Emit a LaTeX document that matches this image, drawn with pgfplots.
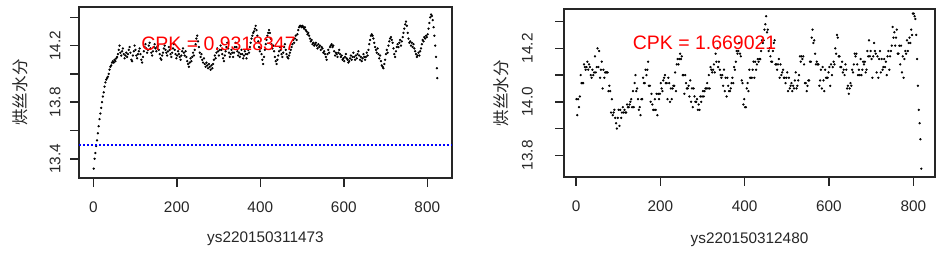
\documentclass[border=0pt]{standalone}
\usepackage{pgfplots}
\pgfplotsset{compat=1.18}
\usepackage{fontspec}
\setmainfont{Liberation Sans}
\newfontfamily\cjk{Noto Sans CJK SC}
\begin{document}
\begin{tikzpicture}
\useasboundingbox (0,0) rectangle (702.75pt,-189.75pt);
\pgfplotsset{
  rstyle/.style={
    scale only axis,
    clip mode=individual,
    axis line style={black!85, line width=1.2pt},
    every tick/.style={black!85, line width=1.1pt},
    tick align=outside,
    major tick length=6.75pt,
    xtick pos=bottom, ytick pos=left,
    tick label style={font=\fontsize{11.5}{13}\selectfont, black!85},
    xticklabel style={anchor=north, inner sep=0pt, yshift=-11pt},
    yticklabel style={rotate=90, anchor=south, inner sep=0pt, yshift=7pt},
    xtick={0,200,400,600,800},
    xticklabels={0,200,400,600,800},
    /pgf/number format/assume math mode=true,
  },
  pts/.style={only marks, mark=*, mark size=0.65pt, black},
}
\begin{axis}[rstyle, at={(59.25pt,-5.25pt)}, anchor=north west,
  width=279.75pt, height=128.25pt,
  xmin=-34.2, xmax=859.2, ymin=13.264, ymax=14.473,
  ytick={13.4,13.6,13.8,14.0,14.2,14.4},
  yticklabels={13.4,,13.8,,14.2,}]
\addplot[pts] coordinates {(1,13.33)(3,13.40)(5,13.44)(7,13.49)(9,13.53)(11,13.58)(13,13.63)(15,13.68)(17,13.72)(19,13.76)(21,13.80)(23,13.84)(25,13.87)(27,13.91)(29,13.94)(31,13.96)(33,13.97)(35,13.98)(37,14.00)(39,14.03)(41,14.05)(43,14.06)(45,14.08)(47,14.09)(49,14.08)(51,14.10)(53,14.09)(55,14.11)(57,14.12)(59,14.14)(61,14.17)(63,14.20)(65,14.15)(67,14.13)(69,14.16)(71,14.18)(73,14.14)(75,14.11)(77,14.13)(79,14.15)(81,14.12)(83,14.14)(85,14.17)(87,14.19)(89,14.15)(91,14.10)(93,14.09)(95,14.13)(97,14.16)(99,14.20)
(101,14.17)(103,14.13)(105,14.11)(107,14.14)(109,14.16)(111,14.18)(113,14.14)(115,14.10)(117,14.08)(119,14.12)(121,14.16)(123,14.19)(125,14.21)(127,14.18)(129,14.15)(131,14.17)(133,14.20)(135,14.22)(137,14.18)(139,14.15)(141,14.13)(143,14.16)(145,14.19)(147,14.21)(149,14.18)(151,14.16)(153,14.19)(155,14.20)(157,14.17)(159,14.14)(161,14.11)(163,14.10)(165,14.13)(167,14.15)(169,14.18)(171,14.20)(173,14.17)(175,14.15)(177,14.13)(179,14.16)(181,14.19)(183,14.17)(185,14.14)(187,14.12)(189,14.15)(191,14.18)(193,14.21)(195,14.17)(197,14.14)(199,14.11)
(201,14.13)(203,14.16)(205,14.14)(207,14.12)(209,14.10)(211,14.13)(213,14.16)(215,14.18)(217,14.15)(219,14.13)(221,14.16)(223,14.12)(225,14.09)(227,14.07)(229,14.05)(231,14.08)(233,14.11)(235,14.09)(237,14.12)(239,14.15)(241,14.13)(243,14.17)(245,14.21)(247,14.25)(249,14.27)(251,14.23)(253,14.19)(255,14.15)(257,14.12)(259,14.14)(261,14.10)(263,14.08)(265,14.11)(267,14.07)(269,14.05)(271,14.08)(273,14.06)(275,14.04)(277,14.07)(279,14.05)(281,14.03)(283,14.06)(285,14.04)(287,14.07)(289,14.10)(291,14.13)(293,14.11)(295,14.15)(297,14.18)(299,14.16)
(301,14.13)(303,14.17)(305,14.20)(307,14.17)(309,14.14)(311,14.11)(313,14.09)(315,14.13)(317,14.16)(319,14.19)(321,14.22)(323,14.18)(325,14.15)(327,14.12)(329,14.14)(331,14.17)(333,14.15)(335,14.12)(337,14.15)(339,14.19)(341,14.22)(343,14.19)(345,14.16)(347,14.13)(349,14.15)(351,14.12)(353,14.14)(355,14.17)(357,14.14)(359,14.11)(361,14.13)(363,14.16)(365,14.14)(367,14.11)(369,14.14)(371,14.17)(373,14.15)(375,14.19)(377,14.22)(379,14.25)(381,14.27)(383,14.29)(385,14.30)(387,14.32)(389,14.34)(391,14.31)(393,14.27)(395,14.23)(397,14.19)(399,14.16)
(401,14.18)(403,14.14)(405,14.10)(407,14.07)(409,14.12)(411,14.17)(413,14.21)(415,14.24)(417,14.27)(419,14.29)(421,14.31)(423,14.29)(425,14.25)(427,14.21)(429,14.18)(431,14.20)(433,14.16)(435,14.12)(437,14.09)(439,14.07)(441,14.10)(443,14.13)(445,14.16)(447,14.19)(449,14.17)(451,14.14)(453,14.12)(455,14.15)(457,14.19)(459,14.21)(461,14.17)(463,14.14)(465,14.12)(467,14.11)(469,14.13)(471,14.15)(473,14.17)(475,14.19)(477,14.21)(479,14.24)(481,14.22)(483,14.25)(485,14.27)(487,14.24)(489,14.28)(491,14.31)(493,14.33)(495,14.34)(497,14.34)(499,14.33)
(501,14.34)(503,14.33)(505,14.32)(507,14.33)(509,14.31)(511,14.30)(513,14.28)(515,14.29)(517,14.27)(519,14.25)(521,14.23)(523,14.24)(525,14.21)(527,14.22)(529,14.20)(531,14.21)(533,14.22)(535,14.20)(537,14.18)(539,14.21)(541,14.19)(543,14.20)(545,14.17)(547,14.19)(549,14.18)(551,14.15)(553,14.16)(555,14.14)(557,14.12)(559,14.10)(561,14.14)(563,14.17)(565,14.15)(567,14.19)(569,14.20)(571,14.21)(573,14.19)(575,14.20)(577,14.16)(579,14.13)(581,14.15)(583,14.14)(585,14.12)(587,14.15)(589,14.17)(591,14.14)(593,14.12)(595,14.13)(597,14.10)(599,14.11)
(601,14.09)(603,14.12)(605,14.14)(607,14.11)(609,14.10)(611,14.08)(613,14.09)(615,14.11)(617,14.13)(619,14.10)(621,14.12)(623,14.15)(625,14.12)(627,14.10)(629,14.13)(631,14.11)(633,14.14)(635,14.16)(637,14.13)(639,14.10)(641,14.12)(643,14.09)(645,14.11)(647,14.14)(649,14.12)(651,14.10)(653,14.12)(655,14.15)(657,14.13)(659,14.17)(661,14.21)(663,14.24)(665,14.27)(667,14.28)(669,14.27)(671,14.25)(673,14.22)(675,14.19)(677,14.17)(679,14.15)(681,14.18)(683,14.14)(685,14.11)(687,14.13)(689,14.09)(691,14.06)(693,14.05)(695,14.04)(697,14.07)(699,14.10)
(701,14.14)(703,14.17)(705,14.15)(707,14.20)(709,14.23)(711,14.25)(713,14.26)(715,14.24)(717,14.22)(719,14.18)(721,14.14)(723,14.12)(725,14.16)(727,14.19)(729,14.21)(731,14.19)(733,14.22)(735,14.24)(737,14.20)(739,14.23)(741,14.26)(743,14.29)(745,14.32)(747,14.35)(749,14.37)(751,14.34)(753,14.29)(755,14.25)(757,14.22)(759,14.23)(761,14.20)(763,14.22)(765,14.19)(767,14.21)(769,14.18)(771,14.16)(773,14.14)(775,14.12)(777,14.13)(779,14.15)(781,14.13)(783,14.16)(785,14.18)(787,14.21)(789,14.24)(791,14.23)(793,14.26)(795,14.25)(797,14.27)(799,14.26)
(801,14.28)(803,14.32)(805,14.36)(807,14.40)(809,14.42)(811,14.41)(813,14.38)(815,14.33)(817,14.27)(819,14.20)(821,14.12)(823,14.04)(824,13.97)};
\addplot[blue, line width=1.5pt, dash pattern=on 1.4pt off 1.6pt] coordinates {(-34.2,13.5)(859.2,13.5)};
\node[red, font=\fontsize{14.6}{17}\selectfont, inner sep=0pt] at (axis cs:300,14.215) {CPK = 0.9318347};
\node[font=\fontsize{11.5}{13}\selectfont, black!85] at (rel axis cs:0.5,0) [yshift=-45.75pt] {ys220150311473};
\node[font=\cjk\fontsize{12.4}{14}\selectfont, black!85, xshift=-44.25pt, rotate=90] at (rel axis cs:0,0.5) {烘丝水分};
\end{axis}
\begin{axis}[rstyle, at={(423pt,-6.975pt)}, anchor=north west,
  width=278.25pt, height=125.55pt,
  xmin=-28.5, xmax=851.5, ymin=13.72, ymax=14.346,
  ytick={13.8,13.9,14.0,14.1,14.2,14.3},
  yticklabels={13.8,,14.0,,14.2,},
  yticklabel style={yshift=9.5pt}]
\addplot[pts] coordinates {(1,14.01)(3,13.95)(5,14.01)(7,13.98)(9,14.02)(11,14.10)(13,14.07)(15,14.07)(17,14.07)(19,14.14)(21,14.13)(23,14.12)(25,14.13)(27,14.15)(29,14.12)(31,14.14)(33,14.13)(35,14.10)(37,14.09)(39,14.12)(41,14.10)(43,14.11)(45,14.17)(47,14.11)(49,14.13)(51,14.20)(53,14.13)(55,14.19)(57,14.09)(59,14.12)(61,14.15)(63,14.05)(65,14.12)(67,14.09)(69,14.11)(71,14.11)(73,14.11)(75,14.11)(77,14.04)(79,14.06)(81,14.04)(83,13.96)(85,14.01)(87,13.95)(89,13.96)(91,13.97)(93,13.94)(95,13.92)(97,13.90)(99,13.94)
(101,13.97)(103,13.91)(105,13.97)(107,13.94)(109,13.96)(111,13.98)(113,13.96)(115,13.97)(117,13.96)(119,13.96)(121,13.99)(123,13.98)(125,13.98)(127,13.99)(129,14.00)(131,14.01)(133,13.98)(135,14.04)(137,13.98)(139,14.07)(141,14.10)(143,14.04)(145,14.05)(147,14.01)(149,13.97)(151,13.98)(153,13.95)(155,14.01)(157,14.01)(159,14.09)(161,14.07)(163,14.07)(165,14.12)(167,14.10)(169,14.12)(171,14.15)(173,14.06)(175,14.06)(177,14.00)(179,14.03)(181,13.99)(183,13.97)(185,13.97)(187,14.01)(189,13.97)(191,14.03)(193,13.95)(195,14.03)(197,14.01)(199,14.03)
(201,14.07)(203,14.05)(205,14.04)(207,14.08)(209,14.09)(211,14.10)(213,14.07)(215,14.07)(217,14.01)(219,14.09)(221,14.07)(223,14.00)(225,14.05)(227,14.01)(229,14.05)(231,14.06)(233,14.06)(235,14.11)(237,14.04)(239,14.14)(241,14.16)(243,14.14)(245,14.16)(247,14.18)(249,14.16)(251,14.17)(253,14.10)(255,14.10)(257,14.03)(259,14.10)(261,14.07)(263,14.05)(265,14.05)(267,14.06)(269,14.02)(271,14.08)(273,14.00)(275,14.05)(277,13.98)(279,14.05)(281,14.02)(283,14.00)(285,14.00)(287,14.01)(289,13.97)(291,13.99)(293,13.97)(295,14.02)(297,14.00)(299,14.02)
(301,14.04)(303,14.02)(305,14.04)(307,14.05)(309,14.05)(311,14.07)(313,14.05)(315,14.10)(317,14.05)(319,14.13)(321,14.12)(323,14.11)(325,14.12)(327,14.14)(329,14.11)(331,14.18)(333,14.15)(335,14.20)(337,14.13)(339,14.15)(341,14.12)(343,14.10)(345,14.09)(347,14.10)(349,14.06)(351,14.12)(353,14.04)(355,14.09)(357,14.02)(359,14.09)(361,14.06)(363,14.04)(365,14.04)(367,14.05)(369,14.07)(371,14.09)(373,14.07)(375,14.13)(377,14.12)(379,14.15)(381,14.19)(383,14.18)(385,14.19)(387,14.22)(389,14.18)(391,14.17)(393,14.08)(395,14.07)(397,13.99)(399,14.01)
(401,13.98)(403,13.98)(405,14.05)(407,14.07)(409,14.04)(411,14.12)(413,14.09)(415,14.09)(417,14.09)(419,14.12)(421,14.15)(423,14.09)(425,14.15)(427,14.12)(429,14.14)(431,14.16)(433,14.15)(435,14.16)(437,14.16)(439,14.19)(441,14.23)(443,14.22)(445,14.23)(447,14.27)(449,14.29)(451,14.32)(453,14.26)(455,14.27)(457,14.19)(459,14.20)(461,14.17)(463,14.15)(465,14.15)(467,14.19)(469,14.22)(471,14.23)(473,14.14)(475,14.14)(477,14.12)(479,14.14)(481,14.16)(483,14.09)(485,14.14)(487,14.10)(489,14.11)(491,14.12)(493,14.09)(495,14.09)(497,14.07)(499,14.09)
(501,14.11)(503,14.04)(505,14.09)(507,14.05)(509,14.06)(511,14.07)(513,14.04)(515,14.06)(517,14.05)(519,14.08)(521,14.11)(523,14.05)(525,14.06)(527,14.08)(529,14.10)(531,14.17)(533,14.15)(535,14.17)(537,14.16)(539,14.17)(541,14.14)(543,14.07)(545,14.07)(547,14.04)(549,14.06)(551,14.08)(553,14.08)(555,14.15)(557,14.15)(559,14.24)(561,14.27)(563,14.22)(565,14.23)(567,14.18)(569,14.14)(571,14.15)(573,14.14)(575,14.14)(577,14.06)(579,14.08)(581,14.12)(583,14.05)(585,14.13)(587,14.08)(589,14.04)(591,14.12)(593,14.09)(595,14.09)(597,14.09)(599,14.11)
(601,14.13)(603,14.06)(605,14.14)(607,14.10)(609,14.13)(611,14.15)(613,14.14)(615,14.20)(617,14.18)(619,14.25)(621,14.24)(623,14.17)(625,14.17)(627,14.13)(629,14.13)(631,14.15)(633,14.11)(635,14.12)(637,14.10)(639,14.14)(641,14.12)(643,14.05)(645,14.06)(647,14.03)(649,14.05)(651,14.07)(653,14.06)(655,14.12)(657,14.11)(659,14.14)(661,14.18)(663,14.17)(665,14.18)(667,14.14)(669,14.10)(671,14.12)(673,14.10)(675,14.16)(677,14.10)(679,14.12)(681,14.15)(683,14.14)(685,14.15)(687,14.11)(689,14.12)(691,14.19)(693,14.17)(695,14.23)(697,14.17)(699,14.19)
(701,14.16)(703,14.09)(705,14.17)(707,14.22)(709,14.19)(711,14.18)(713,14.11)(715,14.17)(717,14.09)(719,14.16)(721,14.19)(723,14.11)(725,14.16)(727,14.12)(729,14.13)(731,14.16)(733,14.13)(735,14.15)(737,14.10)(739,14.17)(741,14.19)(743,14.12)(745,14.17)(747,14.19)(749,14.21)(751,14.28)(753,14.24)(755,14.26)(757,14.21)(759,14.24)(761,14.27)(763,14.18)(765,14.18)(767,14.21)(769,14.14)(771,14.21)(773,14.11)(775,14.17)(777,14.09)(779,14.16)(781,14.19)(783,14.18)(785,14.23)(787,14.19)(789,14.22)(791,14.24)(793,14.22)(795,14.27)(797,14.25)(799,14.33)
(801,14.33)(803,14.32)(805,14.31)(807,14.25)(809,14.16)(811,14.06)(813,13.97)(815,13.92)(817,13.86)(819,13.75)};
\node[red, font=\fontsize{14.6}{17}\selectfont, inner sep=0pt] at (axis cs:305,14.22) {CPK = 1.669021};
\node[font=\fontsize{11.5}{13}\selectfont, black!85] at (rel axis cs:0.5,0) [yshift=-47pt] {ys220150312480};
\node[font=\cjk\fontsize{12.4}{14}\selectfont, black!85, xshift=-46.7pt, rotate=90] at (rel axis cs:0,0.5) {烘丝水分};
\end{axis}
\end{tikzpicture}
\end{document}
